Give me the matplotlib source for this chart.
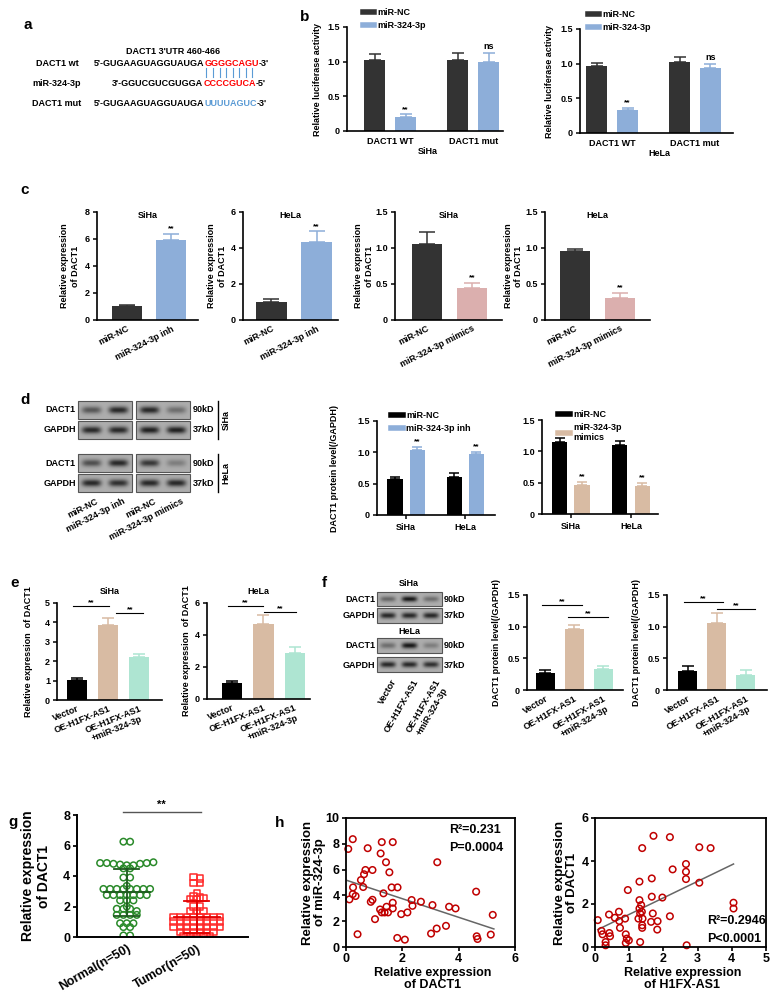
import numpy as np
import matplotlib
matplotlib.use("Agg")
import matplotlib.pyplot as plt
from matplotlib.lines import Line2D
from matplotlib.patches import Rectangle

plt.rcParams["font.family"] = ["Liberation Sans", "DejaVu Sans"]
plt.rcParams["font.weight"] = "bold"
plt.rcParams["axes.labelweight"] = "bold"

# ---------------- data ----------------
# a: sequences (plain / highlighted / end)
seq_wt = ["5'-GUGAAGUAGGUAUGA", "GGGGCAGU", "-3'"]
seq_mir = ["3'-GGUCGUCGUGGA", "CCCCGUCA", "-5'"]
seq_mut = ["5'-GUGAAGUAGGUAUGA", "UUUUAGUC", "-3'"]

# b: luciferase
b_groups = ["DACT1 WT", "DACT1 mut"]
b_siha_nc = [1.02, 1.03]
b_siha_nc_err = [0.09, 0.09]
b_siha_mir = [0.20, 1.00]
b_siha_mir_err = [0.04, 0.12]
b_hela_nc = [0.97, 1.03]
b_hela_nc_err = [0.04, 0.07]
b_hela_mir = [0.33, 0.94]
b_hela_mir_err = [0.03, 0.05]

# c: qPCR
c_inh_groups = ["miR-NC", "miR-324-3p inh"]
c_mim_groups = ["miR-NC", "miR-324-3p mimics"]
c_siha_inh = [1.04, 5.92]
c_siha_inh_err = [0.10, 0.48]
c_hela_inh = [1.01, 4.32]
c_hela_inh_err = [0.14, 0.60]
c_siha_mim = [1.05, 0.44]
c_siha_mim_err = [0.17, 0.08]
c_hela_mim = [0.96, 0.31]
c_hela_mim_err = [0.03, 0.07]

# d: western blot quantification
d_cells = ["SiHa", "HeLa"]
d_inh_nc = [0.57, 0.60]
d_inh_nc_err = [0.03, 0.07]
d_inh = [1.03, 0.97]
d_inh_err = [0.05, 0.04]
d_mim_nc = [1.15, 1.10]
d_mim_nc_err = [0.07, 0.06]
d_mim = [0.47, 0.44]
d_mim_err = [0.04, 0.05]
# band strengths (0..1) per lane
d_siha_dact1_inh = [0.55, 0.85]
d_siha_dact1_mim = [0.85, 0.40]
d_siha_gapdh_inh = [0.85, 0.85]
d_siha_gapdh_mim = [0.90, 0.90]
d_hela_dact1_inh = [0.60, 0.85]
d_hela_dact1_mim = [0.75, 0.30]
d_hela_gapdh_inh = [0.85, 0.80]
d_hela_gapdh_mim = [0.85, 0.85]

# e: qPCR rescue
e_groups = ["Vector", "OE-H1FX-AS1", "OE-H1FX-AS1\n+miR-324-3p"]
e_siha = [1.05, 3.88, 2.20]
e_siha_err = [0.07, 0.35, 0.15]
e_hela = [1.00, 4.70, 2.85]
e_hela_err = [0.14, 0.56, 0.38]

# f: western rescue
f_siha = [0.27, 0.96, 0.33]
f_siha_err = [0.05, 0.07, 0.05]
f_hela = [0.30, 1.06, 0.23]
f_hela_err = [0.08, 0.15, 0.08]
f_siha_dact1 = [0.45, 0.95, 0.40]
f_siha_gapdh = [0.85, 0.85, 0.85]
f_hela_dact1 = [0.40, 0.95, 0.30]
f_hela_gapdh = [0.85, 0.85, 0.80]

# g: tissue expression
g_groups = ["Normal(n=50)", "Tumor(n=50)"]
g_normal = [6.25, 6.25, 4.85, 4.85, 4.8, 4.75, 4.7, 4.7, 4.8, 4.85, 4.9,
            4.5, 4.5, 3.9, 3.9, 3.35, 3.15, 3.15, 3.15, 3.15, 3.15, 3.15,
            3.15, 3.15, 2.75, 2.75, 2.75, 2.75, 2.75, 2.75, 2.75, 2.4, 2.4,
            2.4, 2.0, 1.85, 1.85, 1.85, 1.7, 1.45, 1.45, 1.45, 1.45, 0.9,
            0.9, 0.9, 0.65, 0.65, 0.1, 0.1]
g_tumor = [3.95, 3.55, 3.55, 3.85, 2.9, 2.65, 2.6, 2.5, 2.5, 2.55, 2.0,
           2.0, 1.7, 1.7, 1.7, 1.3, 1.3, 1.3, 1.3, 1.3, 1.3, 1.3, 1.3,
           1.0, 1.0, 1.0, 1.0, 1.0, 1.0, 1.0, 1.0, 0.65, 0.65, 0.65, 0.65,
           0.65, 0.65, 0.65, 0.65, 0.33, 0.33, 0.33, 0.33, 0.33, 0.33,
           0.05, 0.05, 0.05, 0.05, 0.05]

# h: correlations
h1_x = [0.08, 0.24, 0.77, 1.27, 1.66, 1.23, 1.42, 1.54, 0.94, 0.69, 0.64,
        0.53, 0.25, 0.61, 0.24, 0.34, 0.12, 0.88, 0.94, 1.33, 1.62, 1.83,
        1.21, 1.27, 1.37, 1.44, 1.49, 1.66, 1.66, 1.03, 1.96, 2.18, 2.33,
        2.36, 2.66, 3.07, 3.24, 3.66, 3.89, 3.22, 3.55, 3.02, 1.82, 2.09,
        0.41, 4.62, 4.64, 4.67, 5.14, 5.21]
h1_y = [7.6, 8.36, 7.66, 8.13, 8.13, 7.25, 6.57, 5.79, 5.97, 5.97, 5.64,
        5.19, 4.62, 4.65, 4.1, 3.95, 3.69, 3.5, 3.66, 4.16, 4.62, 4.62,
        2.91, 2.68, 2.68, 3.12, 2.68, 2.99, 3.43, 2.16, 2.55, 2.68, 3.64,
        3.19, 3.51, 3.25, 6.57, 3.12, 2.99, 1.43, 1.64, 1.04, 0.7, 0.57,
        0.99, 4.29, 0.83, 0.62, 0.96, 2.49]
h1_fit_x = [0.05, 5.25]
h1_fit_y = [5.15, 1.40]
h2_x = [0.08, 0.19, 0.22, 0.31, 0.31, 0.41, 0.42, 0.44, 0.58, 0.70, 0.71,
        0.73, 0.88, 0.90, 0.90, 0.93, 0.96, 0.99, 1.30, 1.30, 1.27, 1.30,
        1.32, 1.32, 1.35, 1.37, 1.38, 1.38, 1.38, 1.39, 1.66, 1.66, 1.69,
        1.64, 1.71, 1.83, 1.82, 1.97, 2.19, 2.19, 2.27, 2.66, 2.66, 2.66,
        2.68, 3.05, 3.05, 3.38, 4.05, 4.05]
h2_y = [1.25, 0.75, 0.59, 0.23, 0.08, 1.51, 0.65, 0.50, 1.36, 1.64, 1.21,
        0.89, 1.32, 0.59, 0.19, 0.39, 2.65, 0.31, 3.04, 2.18, 1.32, 1.79,
        1.56, 0.23, 1.95, 1.64, 1.01, 0.89, 4.60, 1.32, 3.19, 2.34, 1.56,
        1.17, 5.17, 1.20, 0.81, 2.30, 1.43, 5.11, 3.61, 3.86, 3.50, 3.16,
        0.08, 4.64, 2.99, 4.60, 2.06, 1.79]
h2_fit_x = [0.08, 4.05]
h2_fit_y = [0.81, 3.86]

# ---------------- colours ----------------
dark = "#333333"
blue = "#8DAED9"
pink = "#DBAFAE"
tan = "#D8BBA3"
mint = "#AEE5D2"
red = "#FF0000"
seqblue = "#5B9BD5"

W, H = 772, 992
fig = plt.figure(figsize=(W / 100, H / 100), dpi=100)
ov = fig.add_axes([0, 0, 1, 1])
ov.set_xlim(0, W)
ov.set_ylim(H, 0)
ov.axis("off")


def px_ax(x0, y0, x1, y1):
    ax = fig.add_axes([x0 / W, 1 - y1 / H, (x1 - x0) / W, (y1 - y0) / H])
    ax.patch.set_alpha(0)
    return ax


def style(ax, fs=6.5, lw=1.2):
    ax.spines[["top", "right"]].set_visible(False)
    ax.spines[["left", "bottom"]].set_linewidth(lw)
    ax.tick_params(labelsize=fs, length=3, width=lw * 0.9, pad=2)


def bars(ax, pos, vals, errs, colors, width, cap):
    for p, v, e, c in zip(pos, vals, errs, colors):
        ax.bar(p, v, width, color=c, linewidth=0, zorder=2)
        ax.errorbar(p, v, yerr=[[0], [e]], fmt="none", ecolor=c, capsize=cap,
                    elinewidth=1.1, capthick=1.1, zorder=1.5)


def stars(ax, x, y, s="**", fs=6):
    ax.text(x, y, s, ha="center", va="bottom", fontsize=fs)


def sigline(ax, x0, x1, y, fs=6):
    ax.plot([x0, x1], [y, y], color="k", lw=0.8, clip_on=False)
    ax.text((x0 + x1) / 2, y, "**", ha="center", va="bottom", fontsize=fs)


def thick_legend(ax, labels, colors, anchor, fs=6.5):
    hs = [Line2D([], [], color=c, lw=4) for c in colors]
    ax.legend(hs, labels, loc="upper left", bbox_to_anchor=anchor, frameon=False,
              fontsize=fs, handlelength=1.3, handletextpad=0.35, labelspacing=0.45,
              borderpad=0, borderaxespad=0)


def blot(x0, x1, y0, y1, intens):
    nx, ny = 160, 40
    X, Y = np.meshgrid(np.linspace(0, 1, nx), np.linspace(0, 1, ny))
    img = np.full((ny, nx), 0.68)
    n = len(intens)
    for i, a in enumerate(intens):
        cx = (i + 0.5) / n
        band = a * np.exp(-np.abs((X - cx) / (0.36 / n)) ** 4 - ((Y - 0.5) / 0.2) ** 2)
        img -= band * 0.62
    ov.imshow(img, cmap="gray", vmin=0, vmax=1, extent=(x0, x1, y1, y0),
              aspect="auto", interpolation="bilinear", zorder=1)
    ov.add_patch(Rectangle((x0, y0), x1 - x0, y1 - y0, fill=False, lw=0.8,
                           ec="#555555", zorder=2))


def letter(x, y, s):
    ov.text(x, y, s, fontsize=11, ha="left", va="center")


# ---------------- a ----------------
letter(24, 25, "a")
fs_a = 6.5
ov.text(173, 52, "DACT1 3'UTR 460-466", fontsize=fs_a, ha="center", va="center")
for yy, lab in zip([63, 83, 103], ["DACT1 wt", "miR-324-3p", "DACT1 mut"]):
    ov.text(57, yy, lab, fontsize=fs_a, ha="center", va="center")


def seq_row(x, y, parts, hl):
    t = ov.text(x, y, parts[0], fontsize=fs_a, ha="left", va="center")
    out = [t]
    for s, c in zip(parts[1:], [hl, "k"]):
        t = ov.annotate(s, xy=(1, 0), xycoords=t, ha="left", va="bottom",
                        fontsize=fs_a, color=c)
        out.append(t)
    return out


seq_row(94, 63, seq_wt, red)
mir_arts = seq_row(112, 83, seq_mir, red)
seq_row(94, 103, seq_mut, seqblue)

# ---------------- b ----------------
letter(300, 17, "b")
for box, nc, nce, mi, mie, cell, anc, xl, ylx in [
        ((347, 27, 503, 131), b_siha_nc, b_siha_nc_err, b_siha_mir, b_siha_mir_err, "SiHa", (0.1, 1.18), (-0.52, 1.36), -0.16),
        ((580, 29, 733, 133), b_hela_nc, b_hela_nc_err, b_hela_mir, b_hela_mir_err, "HeLa", (0.05, 1.18), (-0.39, 1.46), -0.17)]:
    ax = px_ax(*box)
    x = np.arange(2)
    off, w = 15.5 / 83, 21 / 83
    bars(ax, x - off, nc, nce, [dark] * 2, w, 4.5)
    bars(ax, x + off, mi, mie, [blue] * 2, w, 4.5)
    stars(ax, x[0] + off, mi[0] + mie[0] + 0.02)
    ax.text(x[1] + off, mi[1] + mie[1] + 0.03, "ns", ha="center", va="bottom", fontsize=6.5)
    ax.set_xlim(*xl)
    ax.set_ylim(0, 1.5)
    ax.set_yticks([0, 0.5, 1.0, 1.5], ["0", "0.5", "1.0", "1.5"])
    ax.set_xticks(x, b_groups)
    style(ax)
    ax.tick_params(axis="x", length=0, pad=4)
    ax.set_xlabel(cell, fontsize=6.5)
    ax.xaxis.set_label_coords(0.52, -0.15)
    ax.set_ylabel("Relative luciferase activity", fontsize=6.5)
    ax.yaxis.set_label_coords(ylx, 0.5)
    thick_legend(ax, ["miR-NC", "miR-324-3p"], [dark, blue], anc)

# ---------------- c ----------------
letter(20, 190, "c")
c_specs = [
    ((97, 212, 198, 320), c_siha_inh, c_siha_inh_err, [dark, blue], 8, [0, 2, 4, 6, 8], ["0", "2", "4", "6", "8"], "SiHa", c_inh_groups, (-0.68, 1.61), -0.17),
    ((243, 212, 338, 320), c_hela_inh, c_hela_inh_err, [dark, blue], 6, [0, 2, 4, 6], ["0", "2", "4", "6"], "HeLa", c_inh_groups, (-0.62, 1.47), -0.17),
    ((395, 212, 502, 320), c_siha_mim, c_siha_mim_err, [dark, pink], 1.5, [0, 0.5, 1.0, 1.5], ["0", "0.5", "1.0", "1.5"], "SiHa", c_mim_groups, (-0.71, 1.67), -0.2),
    ((545, 212, 650, 320), c_hela_mim, c_hela_mim_err, [dark, pink], 1.5, [0, 0.5, 1.0, 1.5], ["0", "0.5", "1.0", "1.5"], "HeLa", c_mim_groups, (-0.67, 1.67), -0.21),
]
for box, v, e, cols, ymax, yt, ytl, title, groups, xl, ylx in c_specs:
    ax = px_ax(*box)
    x = np.arange(2)
    bars(ax, x, v, e, cols, 30 / 44, 6)
    stars(ax, 1, v[1] + e[1] + ymax * 0.015)
    ax.set_xlim(*xl)
    ax.set_ylim(0, ymax)
    ax.set_yticks(yt, ytl)
    ax.set_xticks(x)
    ax.set_xticklabels(groups, rotation=27, ha="right", rotation_mode="anchor")
    style(ax)
    ax.tick_params(axis="x", length=0, pad=3)
    ax.text(0.5, 0.97, title, transform=ax.transAxes, ha="center", va="center", fontsize=6.5)
    ax.set_ylabel("Relative expression\nof DACT1", fontsize=6.5)
    ax.yaxis.set_label_coords(ylx, 0.5)

# ---------------- d ----------------
letter(20, 400, "d")
bx1, bx2 = (78, 132), (136, 190)
blots_d = [
    (*bx1, 401, 419, d_siha_dact1_inh), (*bx2, 401, 419, d_siha_dact1_mim),
    (*bx1, 421, 439, d_siha_gapdh_inh), (*bx2, 421, 439, d_siha_gapdh_mim),
    (*bx1, 454, 472, d_hela_dact1_inh), (*bx2, 454, 472, d_hela_dact1_mim),
    (*bx1, 474, 492, d_hela_gapdh_inh), (*bx2, 474, 492, d_hela_gapdh_mim),
]
for bx in blots_d:
    blot(*bx)
for yy, lab, kd in [(410, "DACT1", "90kD"), (430, "GAPDH", "37kD"),
                    (463, "DACT1", "90kD"), (483, "GAPDH", "37kD")]:
    ov.text(76, yy, lab, fontsize=6.5, ha="right", va="center")
    ov.text(193, yy, kd, fontsize=6.5, ha="left", va="center")
for (y0, y1), cell in zip([(401, 439), (454, 492)], d_cells):
    ov.plot([218, 218], [y0, y1], color="k", lw=1)
    ov.text(226, (y0 + y1) / 2, cell, rotation=90, fontsize=6.5, ha="center", va="center")
for (a0, a1), labs in [(bx1, c_inh_groups), (bx2, c_mim_groups)]:
    lane = (a1 - a0) / 2
    for k, lab in enumerate(labs):
        xx = a0 + lane * (k + 0.5)
        ov.text(xx + 4, 497, lab, rotation=27, ha="right", va="top",
                rotation_mode="anchor", fontsize=6.5)

for box, nc, nce, tr, tre, col, labs, anc, xl in [
        ((377, 421, 495, 515), d_inh_nc, d_inh_nc_err, d_inh, d_inh_err, blue, ["miR-NC", "miR-324-3p inh"], (0.12, 1.11), (-0.49, 1.5)),
        ((542, 420, 658, 514), d_mim_nc, d_mim_nc_err, d_mim, d_mim_err, tan, ["miR-NC", "miR-324-3p\nmimics"], (0.14, 1.11), (-0.48, 1.45))]:
    ax = px_ax(*box)
    x = np.arange(2)
    off, w = 11 / 59, 15 / 59
    bars(ax, x - off, nc, nce, ["k"] * 2, w, 3.5)
    bars(ax, x + off, tr, tre, [col] * 2, w, 3.5)
    for i in x:
        stars(ax, i + off, tr[i] + tre[i] + 0.03)
    ax.set_xlim(*xl)
    ax.set_ylim(0, 1.5)
    ax.set_yticks([0, 0.5, 1.0, 1.5], ["0", "0.5", "1.0", "1.5"])
    ax.set_xticks(x, d_cells)
    style(ax)
    ax.tick_params(axis="x", pad=3)
    thick_legend(ax, labs, ["k", col], anc)
    if col == blue:
        ax.set_ylabel("DACT1 protein level(/GAPDH)", fontsize=6.5)
        ax.yaxis.set_label_coords(-0.32, 0.5)

# ---------------- e ----------------
letter(10, 583, "e")
for box, v, e, ymax, yt, title, xl, ylx, lines in [
        ((57, 603, 162, 700), e_siha, e_siha_err, 5, [0, 1, 2, 3, 4, 5], "SiHa", (-0.65, 2.73), -0.23, [(-0.13, 1.03, 4.85), (1.26, 2.13, 4.48)]),
        ((207, 603, 310, 699), e_hela, e_hela_err, 6, [0, 2, 4, 6], "HeLa", (-0.79, 2.48), -0.16, [(-0.13, 0.98, 5.81), (1.02, 2.03, 5.44)])]:
    ax = px_ax(*box)
    x = np.arange(3)
    bars(ax, x, v, e, ["k", tan, mint], 20 / 31, 4.5)
    for x0, x1, yy in lines:
        sigline(ax, x0, x1, yy)
    ax.set_xlim(*xl)
    ax.set_ylim(0, ymax)
    ax.set_yticks(yt, [str(t) for t in yt])
    ax.set_xticks(x)
    ax.set_xticklabels(e_groups, rotation=22, ha="right", rotation_mode="anchor",
                       multialignment="center")
    style(ax)
    ax.tick_params(axis="x", length=0, pad=3)
    ax.text(0.5, 1.12, title, transform=ax.transAxes, ha="center", va="center", fontsize=6.5)
    ax.set_ylabel("Relative expression  of DACT1", fontsize=6.5)
    ax.yaxis.set_label_coords(ylx, 0.5)

# ---------------- f ----------------
letter(322, 583, "f")
for bx in [(377, 442, 592, 606, f_siha_dact1), (377, 442, 608, 623, f_siha_gapdh),
           (377, 442, 638, 653, f_hela_dact1), (377, 442, 657, 672, f_hela_gapdh)]:
    blot(*bx)
for yy, lab, kd in [(599, "DACT1", "90kD"), (616, "GAPDH", "37kD"),
                    (646, "DACT1", "90kD"), (665, "GAPDH", "37kD")]:
    ov.text(375, yy, lab, fontsize=6.5, ha="right", va="center")
    ov.text(444, yy, kd, fontsize=6.5, ha="left", va="center")
ov.text(409, 583, "SiHa", fontsize=6.5, ha="center", va="center")
ov.text(409, 632, "HeLa", fontsize=6.5, ha="center", va="center")
for xx, lab in zip([388, 409, 431], e_groups):
    ov.text(xx + 3, 678, lab, rotation=60, ha="right", va="top", rotation_mode="anchor",
            fontsize=6.5, multialignment="center")

for box, v, e, xl, ylx, lines in [
        ((527, 595, 623, 690), f_siha, f_siha_err, (-0.64, 2.69), -0.27, [(-0.12, 1.26, 1.34), (0.78, 2.16, 1.15)]),
        ((667, 595, 767, 690), f_hela, f_hela_err, (-0.71, 2.74), -0.26, [(-0.12, 1.22, 1.39), (1.0, 2.34, 1.28)])]:
    ax = px_ax(*box)
    x = np.arange(3)
    bars(ax, x, v, e, ["k", tan, mint], 19 / 29, 4)
    for x0, x1, yy in lines:
        sigline(ax, x0, x1, yy)
    ax.set_xlim(*xl)
    ax.set_ylim(0, 1.5)
    ax.set_yticks([0, 0.5, 1.0, 1.5], ["0", "0.5", "1.0", "1.5"])
    ax.set_xticks(x)
    ax.set_xticklabels(e_groups, rotation=30, ha="right", rotation_mode="anchor",
                       multialignment="center")
    style(ax)
    ax.tick_params(axis="x", length=0, pad=3)
    ax.set_ylabel("DACT1 protein level(/GAPDH)", fontsize=6.5)
    ax.yaxis.set_label_coords(ylx, 0.5)

# ---------------- g ----------------
letter(8, 822, "g")


def swarm(vals, bin_w=0.3, step=0.095):
    vals = np.asarray(vals)
    bins = np.round(vals / bin_w)
    offs = np.zeros(len(vals))
    for b in np.unique(bins):
        idx = np.where(bins == b)[0]
        offs[idx] = (np.arange(len(idx)) - (len(idx) - 1) / 2) * step
    return offs


ax = px_ax(77, 815, 248, 937)
for i, (vals, mk, col, ecol) in enumerate([(g_normal, "o", "#2A8A2A", "#1F5A1F"),
                                           (g_tumor, "s", "#FF2A2A", "#E00000")]):
    vals = np.asarray(vals)
    ax.scatter(i + swarm(vals), vals, marker=mk, facecolors="none", edgecolors=col,
               s=22, linewidths=1.1, zorder=2)
    m, sd = vals.mean(), vals.std(ddof=1)
    ax.plot([i - 0.33, i + 0.33], [m, m], color=ecol, lw=1.3, zorder=3)
    ax.plot([i, i], [m - sd, m + sd], color=ecol, lw=1.3, zorder=3)
    for yy in (m - sd, m + sd):
        ax.plot([i - 0.18, i + 0.18], [yy, yy], color=ecol, lw=1.3, zorder=3)
ax.plot([-0.06, 1.06], [8.2, 8.2], color="#555555", lw=1, clip_on=False)
ax.text(0.5, 8.35, "**", ha="center", va="bottom", fontsize=8)
ax.set_xlim(-0.71, 1.73)
ax.set_ylim(0, 8)
ax.set_yticks([0, 2, 4, 6, 8], ["0", "2", "4", "6", "8"])
ax.set_xticks([0, 1])
ax.set_xticklabels(g_groups, rotation=30, ha="right", rotation_mode="anchor")
style(ax, fs=9, lw=1.4)
ax.tick_params(axis="x", length=0, pad=4)
ax.set_ylabel("Relative expression\nof DACT1", fontsize=10)
ax.yaxis.set_label_coords(-0.15, 0.5)

# ---------------- h ----------------
letter(275, 823, "h")
for box, xs, ys, fx, fy, xmax, ymax, xt, yt, ylab, xlab, txt, tpos, ylx in [
        ((346, 818, 515, 947), h1_x, h1_y, h1_fit_x, h1_fit_y, 6, 10, [0, 2, 4, 6], [0, 2, 4, 6, 8, 10],
         "Relative expression\nof miR-324-3p", "Relative expression\nof DACT1", ["R²=0.231", "P=0.0004"], (0.61, 0.907, 0.767), -0.12),
        ((595, 818, 766, 947), h2_x, h2_y, h2_fit_x, h2_fit_y, 5, 6, [0, 1, 2, 3, 4, 5], [0, 2, 4, 6],
         "Relative expression\nof DACT1", "Relative expression\nof H1FX-AS1", ["R²=0.2946", "P<0.0001"], (0.655, 0.2, 0.062), -0.1)]:
    ax = px_ax(*box)
    ax.scatter(xs, ys, marker="o", facecolors="none", edgecolors="#C00000", s=22,
               linewidths=1.1, zorder=2, clip_on=False)
    ax.plot(fx, fy, color="#666666", lw=1.1, zorder=1)
    ax.set_xlim(0, xmax)
    ax.set_ylim(0, ymax)
    ax.set_xticks(xt, [str(t) for t in xt])
    ax.set_yticks(yt, [str(t) for t in yt])
    for s in ax.spines.values():
        s.set_linewidth(1.3)
    ax.tick_params(labelsize=9, length=3, width=1.2, pad=1.5)
    ax.text(tpos[0], tpos[1], txt[0], transform=ax.transAxes, fontsize=9, ha="left", va="center")
    ax.text(tpos[0], tpos[2], txt[1], transform=ax.transAxes, fontsize=9, ha="left", va="center")
    ax.set_ylabel(ylab, fontsize=9.5, linespacing=1.0)
    ax.yaxis.set_label_coords(ylx, 0.5)
    ax.set_xlabel(xlab, fontsize=9, linespacing=0.95)
    ax.xaxis.set_label_coords(0.51, -0.155)

# pairing lines of panel a (need rendered text extent)
fig.canvas.draw()
bb = mir_arts[1].get_window_extent()
inv = ov.transData.inverted()
(px0, py0), (px1, py1) = inv.transform([(bb.x0, bb.y0), (bb.x1, bb.y1)])
step = (px1 - px0) / 8
for k in range(8):
    xx = px0 + (k + 0.5) * step
    ov.plot([xx, xx], [68, 77], color=seqblue, lw=0.8)

fig.savefig("out.png", dpi=100)
